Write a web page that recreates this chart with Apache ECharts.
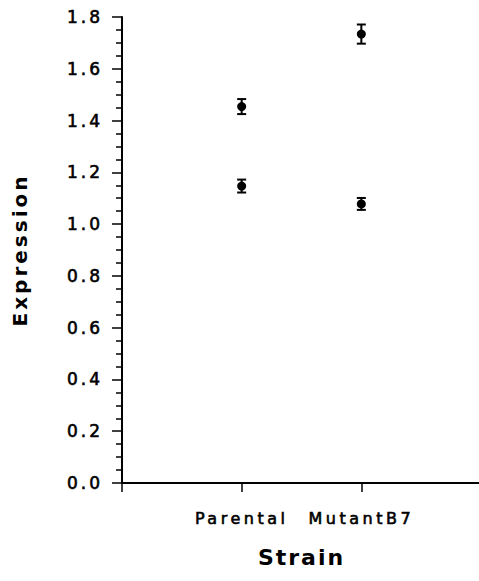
<!DOCTYPE html>
<html>
<head>
<meta charset="utf-8">
<script src="https://cdn.jsdelivr.net/npm/echarts@6/dist/echarts.min.js"></script>
<style>
  html, body { margin: 0; padding: 0; background: #fff; }
  #chart { width: 479px; height: 581px; }
</style>
</head>
<body>
<div id="chart"></div>
<script>
// Strain categories and their slots on the x scale
const strains = ['Parental', 'MutantB7'];
const strainSlots = [1, 2];

// Two measured groups per strain: mean expression and error (±)
const groupHighMeans = [1.454, 1.734];
const groupHighErrors = [0.029, 0.037];
const groupLowMeans = [1.147, 1.078];
const groupLowErrors = [0.025, 0.023];

// Y axis range and tick step
const yMin = 0, yMax = 1.8, yStep = 0.2;

const chart = echarts.init(document.getElementById('chart'), null, { renderer: 'svg' });

function rows(means, errors) {
  return strainSlots.map((x, i) => [x, means[i], errors[i]]);
}

function errorBar(params, api) {
  const x = api.value(0), m = api.value(1), e = api.value(2);
  const top = api.coord([x, m + e]);
  const bot = api.coord([x, m - e]);
  const hw = 4.5;
  const style = { stroke: '#000', lineWidth: 2 };
  return {
    type: 'group',
    children: [
      { type: 'line', shape: { x1: top[0], y1: top[1], x2: bot[0], y2: bot[1] }, style },
      { type: 'line', shape: { x1: top[0] - hw, y1: top[1], x2: top[0] + hw, y2: top[1] }, style },
      { type: 'line', shape: { x1: bot[0] - hw, y1: bot[1], x2: bot[0] + hw, y2: bot[1] }, style }
    ]
  };
}

const font = 'DejaVu Sans';
// light outline gives the labels a slightly heavier stroke
const heavy = { textBorderColor: '#000', textBorderWidth: 0.6 };

chart.setOption({
  animation: false,
  backgroundColor: '#fff',
  grid: { left: 122, right: -2, top: 17, bottom: 98, containLabel: false, outerBoundsMode: 'none' },
  xAxis: {
    type: 'value',
    min: 0, max: 3, interval: 1,
    name: 'Strain',
    nameLocation: 'middle',
    nameGap: 63,
    nameTextStyle: { fontFamily: font, fontWeight: 'bold', fontSize: 22, color: '#000' },
    axisLine: { lineStyle: { color: '#000', width: 2 } },
    axisTick: { show: true, length: 9, lineStyle: { color: '#000', width: 1.5 } },
    splitLine: { show: false },
    axisLabel: Object.assign({
      margin: 27,
      fontFamily: font, fontSize: 16, color: '#000',
      formatter: v => { const i = strainSlots.indexOf(v); return i >= 0 ? strains[i] : ''; }
    }, heavy)
  },
  yAxis: {
    type: 'value',
    min: yMin, max: yMax, interval: yStep,
    name: 'Expression',
    nameLocation: 'middle',
    nameRotate: 90,
    nameGap: 92,
    nameTextStyle: { fontFamily: font, fontWeight: 'bold', fontSize: 20, color: '#000' },
    axisLine: { show: true, lineStyle: { color: '#000', width: 2 } },
    axisTick: { show: true, length: 10, lineStyle: { color: '#000', width: 1.5 } },
    minorTick: { show: true, splitNumber: 4, length: 6, lineStyle: { color: '#000', width: 1.5 } },
    splitLine: { show: false },
    minorSplitLine: { show: false },
    axisLabel: Object.assign({
      margin: 19,
      fontFamily: font, fontSize: 17, color: '#000',
      formatter: v => v.toFixed(1)
    }, heavy)
  },
  series: [
    { type: 'custom', renderItem: errorBar, data: rows(groupHighMeans, groupHighErrors), z: 2 },
    { type: 'custom', renderItem: errorBar, data: rows(groupLowMeans, groupLowErrors), z: 2 },
    { type: 'scatter', symbol: 'circle', symbolSize: 9, itemStyle: { color: '#000', opacity: 1 },
      data: rows(groupHighMeans, groupHighErrors).map(r => [r[0], r[1]]), z: 3 },
    { type: 'scatter', symbol: 'circle', symbolSize: 9, itemStyle: { color: '#000', opacity: 1 },
      data: rows(groupLowMeans, groupLowErrors).map(r => [r[0], r[1]]), z: 3 }
  ]
});

// Wide tracking on the typeset labels
function applyTracking() {
  document.querySelectorAll('#chart text').forEach(t => {
    const s = t.textContent;
    let sp = '3px';
    if (strains.includes(s)) sp = '3.5px';
    else if (s === 'Expression') sp = '3px';
    else if (s === 'Strain') sp = '2px';
    t.style.letterSpacing = sp;
  });
}
applyTracking();
chart.on('finished', applyTracking);
</script>
</body>
</html>
